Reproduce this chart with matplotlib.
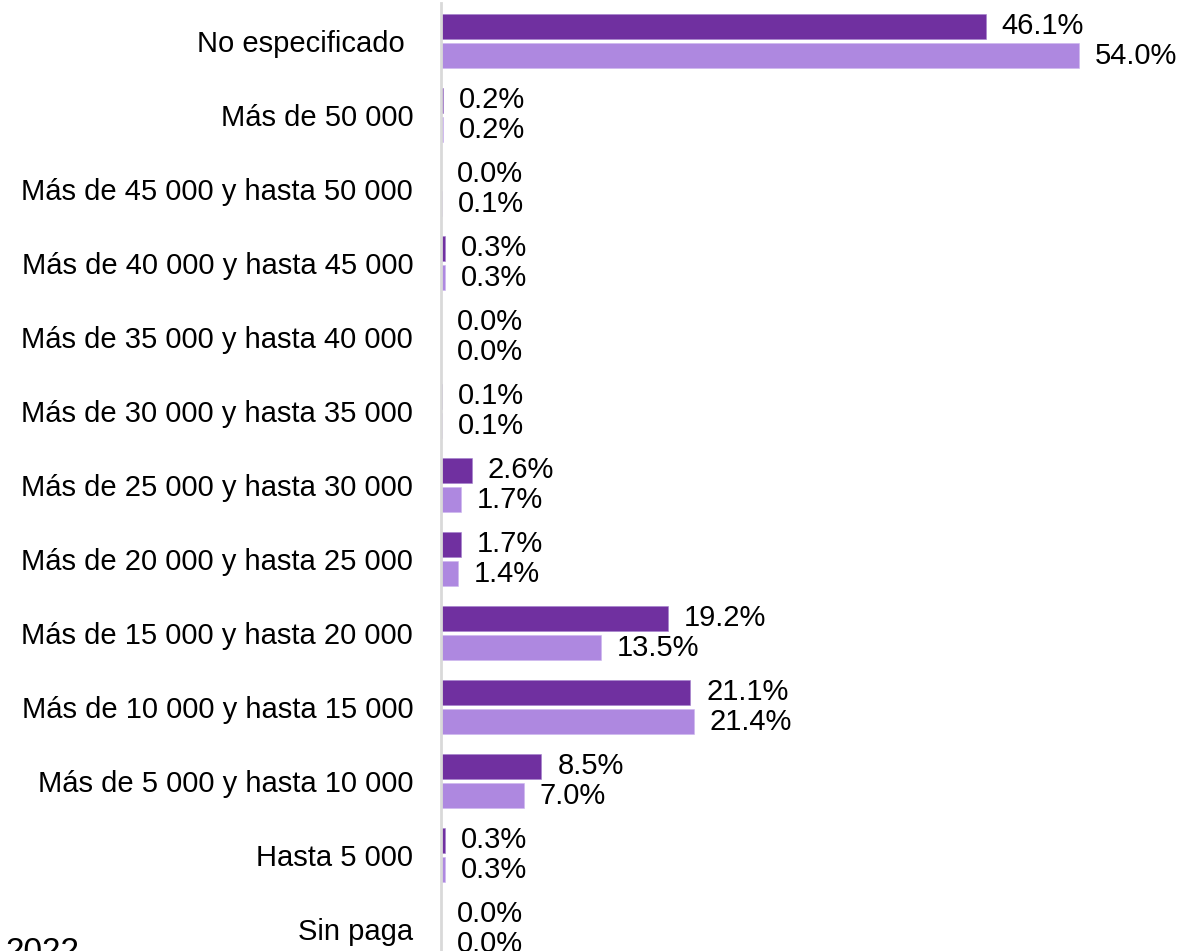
import matplotlib
matplotlib.use("Agg")
import matplotlib.pyplot as plt
import numpy as np

plt.rcParams['font.family'] = ['Liberation Sans', 'DejaVu Sans']

categories = ["Sin paga", "Hasta 5 000", "Más de 5 000 y hasta 10 000",
              "Más de 10 000 y hasta 15 000", "Más de 15 000 y hasta 20 000",
              "Más de 20 000 y hasta 25 000", "Más de 25 000 y hasta 30 000",
              "Más de 30 000 y hasta 35 000", "Más de 35 000 y hasta 40 000",
              "Más de 40 000 y hasta 45 000", "Más de 45 000 y hasta 50 000",
              "Más de 50 000", "No especificado "]
series_dark = [0.0, 0.3, 8.5, 21.1, 19.2, 1.7, 2.6, 0.1, 0.0, 0.3, 0.0, 0.2, 46.1]
series_light = [0.0, 0.3, 7.0, 21.4, 13.5, 1.4, 1.7, 0.1, 0.0, 0.3, 0.1, 0.2, 54.0]
legend_text = "2022"

W, H = 1203, 951
fig = plt.figure(figsize=(W / 100, H / 100), dpi=100)
ax_left = 441 / W
ax_top_px = 3
ax = fig.add_axes([ax_left, 0, 1 - ax_left, (H - ax_top_px) / H])

pos = np.arange(len(categories))
off = 0.196
h = 0.351
c_dark = '#7030A0'
c_light = '#AE88E0'
ax.barh(pos + off, series_dark, height=h, color=c_dark, edgecolor='#a27fcc', linewidth=0.4)
ax.barh(pos - off, series_light, height=h, color=c_light, edgecolor='#cdb5ee', linewidth=0.4)

xmax = (W - 441) / 11.82
ax.set_xlim(0, xmax)
ax.set_ylim((929 - 951) / 74, (929 - ax_top_px) / 74)

fs = 21
for p, v in zip(pos, series_dark):
    ax.annotate(f"{v:.1f}%", xy=(v, p + off), xytext=(11.5, 0), textcoords='offset points',
                va='center', ha='left', fontsize=fs, color='black')
for p, v in zip(pos, series_light):
    ax.annotate(f"{v:.1f}%", xy=(v, p - off), xytext=(11.5, 0), textcoords='offset points',
                va='center', ha='left', fontsize=fs, color='black')

ax.set_yticks(pos)
ax.set_yticklabels(categories, fontsize=fs)
ax.tick_params(axis='y', length=0, pad=20)
ax.set_xticks([])
for s in ['top', 'right', 'bottom']:
    ax.spines[s].set_visible(False)
ax.spines['left'].set_color('#d9d9d9')
ax.spines['left'].set_linewidth(2)

fig.text(5 / W, 1 - 937 / H, legend_text, ha='left', va='top', fontsize=24, color='black')

fig.savefig("out.png", dpi=100)
